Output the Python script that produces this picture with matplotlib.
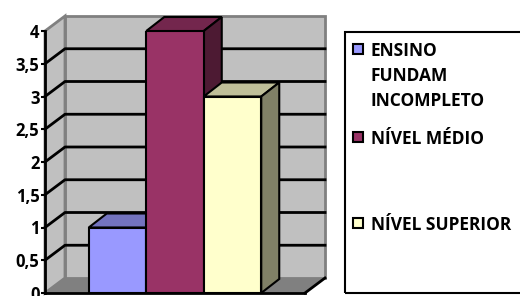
import matplotlib.pyplot as plt
from matplotlib.patches import Polygon, Rectangle

# data
categories = ['ENSINO\nFUNDAM\nINCOMPLETO', 'NÍVEL MÉDIO', 'NÍVEL SUPERIOR']
values = [1, 4, 3]
front_colors = ['#9999FF', '#993366', '#FFFFCC']
top_colors = ['#7373BF', '#73264D', '#BFBF99']
side_colors = ['#4D4D80', '#4D1A33', '#808066']
yticks = [0, 0.5, 1, 1.5, 2, 2.5, 3, 3.5, 4]
ytick_labels = [f'{t:g}'.replace('.', ',') for t in yticks]

plt.rcParams['font.family'] = ['Open Sans', 'DejaVu Sans']
plt.rcParams['font.weight'] = 'bold'

W, H = 520, 296
fig = plt.figure(figsize=(W / 100, H / 100), dpi=100)
ax = fig.add_axes([45 / W, 3 / H, 260 / W, 262 / H])
ax.set_xlim(-0.5, 0.5)
ax.set_ylim(0, 4)

ux = 1 / 260       # data units per pixel (x)
uy = 4 / 262       # data units per pixel (y)
wdx, wdy = 20 * ux, 15 * uy   # wall depth
bdx, bdy = 18 * ux, 14 * uy   # bar depth

wall = '#C0C0C0'
edge = '#808080'
x0, x1 = -0.5, 0.5
top = 4

# back wall, side wall, floor
ax.add_patch(Polygon([(x0 + wdx, wdy), (x1 + wdx, wdy), (x1 + wdx, top + wdy),
                      (x0 + wdx, top + wdy)], closed=True, fc=wall, ec=edge,
                     lw=2, clip_on=False, zorder=0.5))
ax.add_patch(Polygon([(x0, 0), (x0 + wdx, wdy), (x0 + wdx, top + wdy), (x0, top)],
                     closed=True, fc=wall, ec=edge, lw=2, clip_on=False, zorder=0.5))
ax.add_patch(Polygon([(x0, 0), (x0 + wdx, wdy), (x1 + wdx, wdy), (x1, 0)],
                     closed=True, fc='#808080', ec='none', clip_on=False, zorder=0.6))
ax.plot([x1, x1 + wdx], [0, wdy], color='black', lw=2, clip_on=False, zorder=0.7)

# gridlines
for t in yticks[1:-1]:
    ax.plot([x0, x0 + wdx, x1 + wdx], [t, t + wdy, t + wdy], color='black',
            lw=2, clip_on=False, zorder=1)

# bars
width = 57.5 * ux
xs = [-width, 0, width]
bars = ax.bar(xs, values, width=width, color=front_colors, edgecolor='black',
              linewidth=1.5, zorder=2)
for i, (b, v) in enumerate(zip(bars, values)):
    l = b.get_x()
    r = l + b.get_width()
    z = 2 + i
    b.set_zorder(z + 0.5)
    ax.add_patch(Polygon([(l, v), (l + bdx, v + bdy), (r + bdx, v + bdy), (r, v)],
                         closed=True, fc=top_colors[i], ec='black', lw=1.5,
                         clip_on=False, zorder=z))
    ax.add_patch(Polygon([(r, 0), (r + bdx, bdy), (r + bdx, v + bdy), (r, v)],
                         closed=True, fc=side_colors[i], ec='black', lw=1.5,
                         clip_on=False, zorder=z))

ax.set_xticks([])
ax.set_yticks(yticks)
ax.set_yticklabels(ytick_labels, fontsize=12, fontweight='bold')
ax.tick_params(axis='y', length=3, width=1.5, pad=1)
for s in ['top', 'right']:
    ax.spines[s].set_visible(False)
ax.spines['left'].set_linewidth(2)
ax.spines['bottom'].set_linewidth(2)
ax.spines['left'].set_zorder(10)
ax.spines['bottom'].set_zorder(10)
ax.patch.set_visible(False)

# legend
fig.patches.append(Rectangle((345 / W, 3 / H), 190 / W, 261 / H,
                             transform=fig.transFigure, fill=False,
                             ec='black', lw=1.5))
entry_y = [49, 137, 223]
for lab, c, yy in zip(categories, front_colors, entry_y):
    fig.patches.append(Rectangle((353 / W, 1 - (yy + 5) / H), 10 / W, 10 / H,
                                 transform=fig.transFigure, fc=c, ec='black', lw=1.5))
    fig.text(371 / W, 1 - (yy - 7) / H, lab, ha='left', va='top',
             fontsize=12.5, fontweight='bold', linespacing=1.5)

fig.savefig('out.png', dpi=100)
